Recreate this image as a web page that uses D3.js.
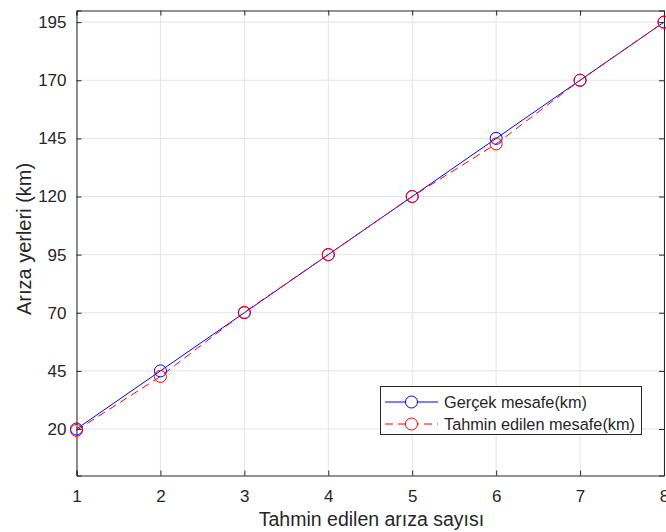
<!DOCTYPE html>
<html><head><meta charset="utf-8">
<script src="https://cdn.jsdelivr.net/npm/d3@7"></script>
<style>body{margin:0;background:#fff}svg{display:block}text{font-family:"Liberation Sans",Arial,sans-serif;fill:#262626}</style>
</head><body><svg id="c" width="666" height="532"></svg>
<script>
const xValues=[1,2,3,4,5,6,7,8];
const actual=[20,45,70,95,120,145,170,195];
const predicted=[19.4,42.6,70.2,95,120,142.6,170,195];
const yTicks=[20,45,70,95,120,145,170,195];
const xTicks=[1,2,3,4,5,6,7,8];
const seriesNames=["Gerçek mesafe(km)","Tahmin edilen mesafe(km)"];

const svg=d3.select("#c");
const L=76.5,R=664,T=10.5,B=475.5;
const x=d3.scaleLinear().domain([1,8]).range([L,R]);
const y=d3.scaleLinear().domain([0,200]).range([B,T]);

// grid
const g=svg.append("g");
g.selectAll(".gx").data(xTicks).join("line").attr("x1",d=>x(d)).attr("x2",d=>x(d)).attr("y1",T).attr("y2",B).attr("stroke","#e3e3e3").attr("stroke-width",1);
g.selectAll(".gy").data(yTicks).join("line").attr("x1",L).attr("x2",R).attr("y1",d=>y(d)).attr("y2",d=>y(d)).attr("stroke","#e3e3e3").attr("stroke-width",1);

// axes
const ax=svg.append("g").attr("transform",`translate(0,${B})`).call(d3.axisBottom(x).tickValues(xTicks).tickSize(-5).tickPadding(14).tickFormat(d3.format("d")));
const ay=svg.append("g").attr("transform",`translate(${L},0)`).call(d3.axisLeft(y).tickValues(yTicks).tickSize(-5).tickPadding(10).tickFormat(d3.format("d")));
const at=svg.append("g").attr("transform",`translate(0,${T})`).call(d3.axisTop(x).tickValues(xTicks).tickSize(-5).tickFormat(""));
const ar=svg.append("g").attr("transform",`translate(${R},0)`).call(d3.axisRight(y).tickValues(yTicks).tickSize(-5).tickFormat(""));
[ax,ay,at,ar].forEach(a=>{a.selectAll("path").attr("stroke","#262626");a.selectAll("line").attr("stroke","#262626");a.selectAll("text").attr("font-size",17).attr("fill","#262626").style("font-family","'Liberation Sans',Arial,sans-serif");});

const line=d3.line().x((d,i)=>x(xValues[i])).y(d=>y(d));
svg.append("path").datum(actual).attr("d",line).attr("fill","none").attr("stroke","#0000ff").attr("stroke-width",1);
svg.append("path").datum(predicted).attr("d",line).attr("fill","none").attr("stroke","#ff0000").attr("stroke-width",1).attr("stroke-dasharray","8,5");
svg.selectAll(".ma").data(actual).join("circle").attr("cx",(d,i)=>x(xValues[i])).attr("cy",d=>y(d)).attr("r",6).attr("fill","none").attr("stroke","#0000ff");
svg.selectAll(".mp").data(predicted).join("circle").attr("cx",(d,i)=>x(xValues[i])).attr("cy",d=>y(d)).attr("r",6).attr("fill","none").attr("stroke","#ff0000");

// labels
svg.append("text").attr("x",371.5).attr("y",526).attr("text-anchor","middle").attr("font-size",19.5).text("Tahmin edilen arıza sayısı");
svg.append("text").attr("transform",`translate(31,239) rotate(-90)`).attr("text-anchor","middle").attr("font-size",20).text("Arıza yerleri (km)");

// legend
const lg=svg.append("g");
lg.append("rect").attr("x",380.5).attr("y",386.5).attr("width",261).attr("height",48).attr("fill","#fff").attr("stroke","#262626");
const colors=["#0000ff","#ff0000"],dashes=[null,"8,5"];
seriesNames.forEach((n,i)=>{
  const yy=402+i*22;
  lg.append("line").attr("x1",385).attr("x2",438).attr("y1",yy).attr("y2",yy).attr("stroke",colors[i]).attr("stroke-dasharray",dashes[i]);
  lg.append("circle").attr("cx",411.5).attr("cy",yy).attr("r",6).attr("fill","#fff").attr("stroke",colors[i]);
  lg.append("text").attr("x",444).attr("y",yy+6).attr("font-size",16.3).attr("fill","#000").text(n);
});
</script></body></html>
